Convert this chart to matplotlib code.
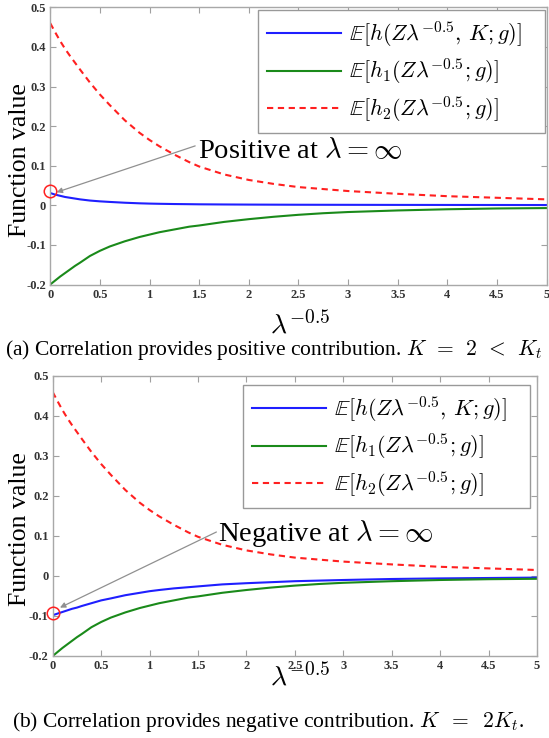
import matplotlib
matplotlib.use("Agg")
import matplotlib.pyplot as plt

plt.rcParams['mathtext.fontset'] = 'cm'
plt.rcParams['font.family'] = ['Liberation Serif', 'DejaVu Serif']

# ---- data ----
x_vals = [0, 0.05, 0.1, 0.15, 0.2, 0.25, 0.3, 0.4, 0.5, 0.6, 0.75, 0.9, 1.0, 1.1, 1.25,
          1.4, 1.5, 1.75, 2.0, 2.25, 2.5, 2.75, 3.0, 3.5, 4.0, 4.5, 5.0]

h_top = [0.031, 0.027, 0.024, 0.021, 0.019, 0.017, 0.015, 0.012, 0.010, 0.0085, 0.0065,
         0.005, 0.0043, 0.0038, 0.0032, 0.0028, 0.0025, 0.0021, 0.0018, 0.0016, 0.0014,
         0.0013, 0.0012, 0.001, 0.0009, 0.0008, 0.0007]
h1_top = [-0.200, -0.190, -0.180, -0.171, -0.162, -0.153, -0.145, -0.128, -0.115, -0.104,
          -0.091, -0.080, -0.074, -0.068, -0.061, -0.054, -0.051, -0.042, -0.035, -0.029,
          -0.024, -0.020, -0.017, -0.013, -0.010, -0.008, -0.007]
h2_top = [0.460, 0.437, 0.415, 0.395, 0.377, 0.360, 0.343, 0.310, 0.280, 0.253, 0.215,
          0.183, 0.165, 0.149, 0.128, 0.109, 0.098, 0.078, 0.064, 0.054, 0.046, 0.041,
          0.036, 0.029, 0.023, 0.019, 0.015]

h_bot = [-0.098, -0.094, -0.090, -0.086, -0.082, -0.079, -0.075, -0.068, -0.061, -0.056,
         -0.048, -0.042, -0.038, -0.035, -0.031, -0.028, -0.026, -0.021, -0.018, -0.0155,
         -0.013, -0.0115, -0.010, -0.0075, -0.006, -0.005, -0.004]
h1_bot = [-0.200, -0.190, -0.180, -0.171, -0.162, -0.153, -0.145, -0.128, -0.115, -0.104,
          -0.091, -0.080, -0.074, -0.068, -0.061, -0.054, -0.051, -0.042, -0.035, -0.029,
          -0.024, -0.020, -0.017, -0.013, -0.010, -0.008, -0.007]
h2_bot = [0.460, 0.437, 0.415, 0.395, 0.377, 0.360, 0.343, 0.310, 0.280, 0.253, 0.215,
          0.183, 0.165, 0.149, 0.128, 0.109, 0.098, 0.078, 0.064, 0.054, 0.046, 0.041,
          0.036, 0.029, 0.023, 0.019, 0.015]

x_ticks = [0, 0.5, 1, 1.5, 2, 2.5, 3, 3.5, 4, 4.5, 5]
x_ticklabels = ['0', '0.5', '1', '1.5', '2', '2.5', '3', '3.5', '4', '4.5', '5']
y_ticks = [-0.2, -0.1, 0, 0.1, 0.2, 0.3, 0.4, 0.5]
y_ticklabels = ['-0.2', '-0.1', '0', '0.1', '0.2', '0.3', '0.4', '0.5']

labels = [r'$\mathbb{E}[h(Z\lambda^{-0.5},\,K;g)]$' + '   ',
          r'$\mathbb{E}[h_1(Z\lambda^{-0.5};g)]$' + '   ',
          r'$\mathbb{E}[h_2(Z\lambda^{-0.5};g)]$' + '   ']

W, H = 549, 738
fig = plt.figure(figsize=(W / 100, H / 100), dpi=100)

def px_axes(l, t, r, b):
    return fig.add_axes([l / W, 1 - b / H, (r - l) / W, (b - t) / H])

AX1 = (50.2, 7.3, 546.7, 284.5)
AX2 = (52.7, 376, 537, 656)
ax1 = px_axes(*AX1)
ax2 = px_axes(*AX2)

def draw(ax, box, h, h1, h2, circ_y, arrow_tip, arrow_tail, text, text_pos, leg_ur, ylab_y):
    ax.plot(x_vals, h, color='#1f1fff', lw=1.5, label=labels[0])
    ax.plot(x_vals, h1, color='#1a8a1a', lw=1.5, label=labels[1])
    ax.plot(x_vals, h2, color='#ff2020', lw=1.5, ls=(0, (3, 2.2)), label=labels[2])
    ax.plot([0], [circ_y], marker='o', ms=9, mfc='none', mec='#ff2020', mew=1.1,
            clip_on=False, zorder=5)
    ax.annotate('', xy=arrow_tip, xytext=arrow_tail,
                arrowprops=dict(arrowstyle='-|>', color='#909090', lw=0.9,
                                mutation_scale=8, shrinkA=0, shrinkB=0))
    ax.text(text_pos[0], text_pos[1], text, fontsize=20.5, ha='left', va='center')
    ax.set_xlim(0, 5)
    ax.set_ylim(-0.2, 0.5)
    ax.set_xticks(x_ticks)
    ax.set_xticklabels(x_ticklabels)
    ax.set_yticks(y_ticks)
    ax.set_yticklabels(y_ticklabels)
    ax.tick_params(direction='in', top=True, right=True, length=4, width=0.8,
                   color='#a0a0a0', labelsize=9, labelcolor='#333333', pad=3)
    for lab in ax.get_xticklabels() + ax.get_yticklabels():
        lab.set_fontweight('bold')
    for s in ax.spines.values():
        s.set_color('#a8a8a8')
        s.set_linewidth(1.0)
    ax.set_ylabel('Function value', fontsize=18.5)
    ax.yaxis.set_label_coords((31 - box[0]) / (box[2] - box[0]),
                              1 - (ylab_y - box[1]) / (box[3] - box[1]))
    leg = ax.legend(loc='upper right', bbox_to_anchor=(leg_ur[0] / W, 1 - leg_ur[1] / H),
                    bbox_transform=fig.transFigure, borderaxespad=0, fontsize=16,
                    fancybox=False, framealpha=1, edgecolor='#999999',
                    handlelength=3.3, handletextpad=0.4, labelspacing=0.36,
                    borderpad=0.4)
    leg.get_frame().set_linewidth(1.0)

draw(ax1, AX1, h_top, h1_top, h2_top, 0.035, (0.065, 0.033), (1.46, 0.150),
     r'Positive at $\lambda=\infty$', (1.49, 0.136), (545, 10), 160)
draw(ax2, AX2, h_bot, h1_bot, h2_bot, -0.093, (0.075, -0.079), (1.69, 0.110),
     r'Negative at $\lambda=\infty$', (1.71, 0.107), (530, 385), 529)

fig.text(300 / W, 1 - 325 / H, r'$\lambda^{-0.5}$', fontsize=20, ha='center', va='center')
fig.text(300 / W, 1 - 677 / H, r'$\lambda^{-0.5}$', fontsize=20, ha='center', va='center')

fig.text(5 / W, 1 - 350 / H,
         r'(a) Correlation provides positive contribution. $K\;\,=\;\,2\;\,<\;\,K_t$',
         fontsize=15.5, ha='left', va='center')
fig.text(12 / W, 1 - 722 / H,
         r'(b) Correlation provides negative contribution. $K\;\;=\;\;2K_t$.',
         fontsize=15.5, ha='left', va='center')

fig.savefig('out.png', dpi=100)
